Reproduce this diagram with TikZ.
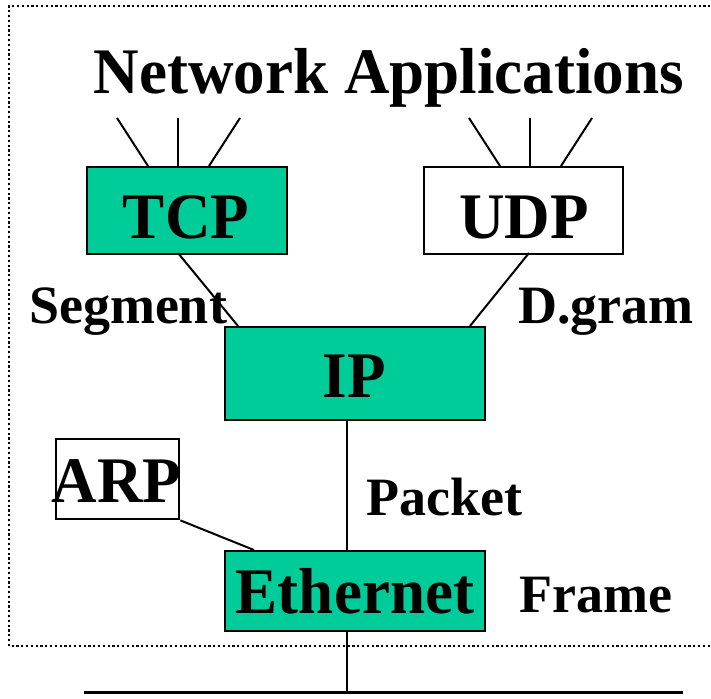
\documentclass[tikz,border=0pt]{standalone}
\usepackage{fontspec}
\setmainfont{Liberation Serif}
\definecolor{teal}{HTML}{00CC99}
\newcommand\narrowtxt[1]{\scalebox{0.97}[1]{#1}}
\begin{document}
\begin{tikzpicture}[x=1pt,y=-1pt,
  box/.style={draw=black,line width=2.4pt,inner sep=0pt,anchor=north west},
  fillbox/.style={box,fill=teal},
  big/.style={font=\fontsize{65}{65}\selectfont\bfseries,anchor=base,inner sep=0pt},
  lab/.style={font=\fontsize{54}{54}\selectfont\bfseries,anchor=base,inner sep=0pt},
  conn/.style={line width=2pt}]
\useasboundingbox (0,0) rectangle (711,698);
\draw[line width=2.2pt,dash pattern=on 2.2pt off 2.6pt] (720,6) -- (9,6) -- (9,646) -- (720,646);
\node[big] (title) at (389,94) {\narrowtxt{Network Applications}};
\node[fillbox,minimum width=200pt,minimum height=87pt] (tcp) at (86,166) {};
\node[big] (tcptxt) at (186,238) {\narrowtxt{TCP}};
\node[box,fill=white,minimum width=199pt,minimum height=87pt] (udp) at (423,166) {};
\node[big] (udptxt) at (524,238) {\narrowtxt{UDP}};
\node[fillbox,minimum width=260pt,minimum height=93pt] (ip) at (224,326) {};
\node[big] (iptxt) at (354,397) {\narrowtxt{IP}};
\node[box,minimum width=123pt,minimum height=80pt] (arp) at (55,438) {};
\node[big] (arptxt) at (116.5,502) {\narrowtxt{ARP}};
\node[fillbox,minimum width=260pt,minimum height=80pt] (eth) at (224,550) {};
\node[big] (ethtxt) at (355,613) {\narrowtxt{Ethernet}};
\node[lab] (seg) at (128,323) {Segment};
\node[lab] (dgram) at (606,323) {D.gram};
\node[lab] (packet) at (444,515) {Packet};
\node[lab] (frame) at (596,612) {Frame};
\coordinate (t1) at (117,118);
\coordinate (t2) at (178,118);
\coordinate (t3) at (240,118);
\coordinate (u1) at (469,118);
\coordinate (u2) at (530,118);
\coordinate (u3) at (592,118);
\coordinate (ipbot) at (347,419);
\coordinate (ethtop) at (347,550);
\coordinate (ethbot) at (347,630);
\coordinate (bus) at (347,692);
\draw[conn] (t1) -- (148,166);
\draw[conn] (t2) -- (178,166);
\draw[conn] (t3) -- (209,166);
\draw[conn] (u1) -- (500,166);
\draw[conn] (u2) -- (530,166);
\draw[conn] (u3) -- (561,166);
\draw[conn] (178,253) -- (238,326);
\draw[conn] (529,253) -- (470,326);
\draw[conn] (ipbot) -- (ethtop);
\draw[conn] (arp.south east) -- (254,550);
\draw[conn] (ethbot) -- (bus);
\draw[line width=3pt] (84,692) -- (683,692);
\end{tikzpicture}
\end{document}
